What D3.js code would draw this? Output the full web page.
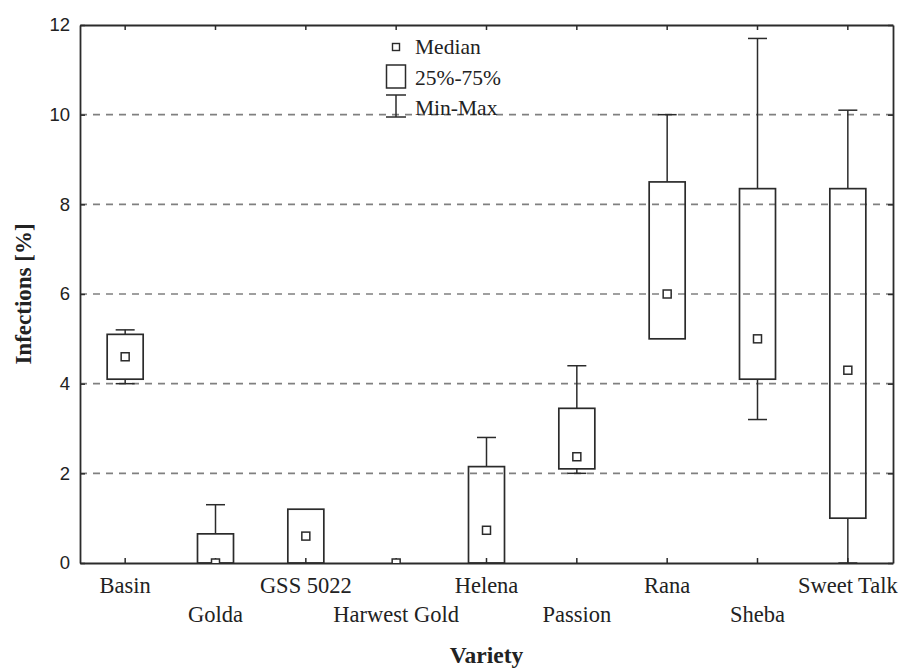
<!DOCTYPE html>
<html>
<head>
<meta charset="utf-8">
<script src="https://cdn.jsdelivr.net/npm/d3@7"></script>
<style>
  body { margin: 0; background: #fff; }
  svg text { fill: #222; }
</style>
</head>
<body>
<svg id="chart" width="904" height="670"></svg>
<script>
// values
const varieties = ["Basin", "Golda", "GSS 5022", "Harwest Gold", "Helena", "Passion", "Rana", "Sheba", "Sweet Talk"];
const minVals    = [4.0, 0,    0,   0, 0,    2.0,  5.0, 3.2,  0];
const q1Vals     = [4.1, 0,    0,   0, 0,    2.1,  5.0, 4.1,  1.0];
const medianVals = [4.6, 0,    0.6, 0, 0.73, 2.37, 6.0, 5.0,  4.3];
const q3Vals     = [5.1, 0.65, 1.2, 0, 2.15, 3.45, 8.5, 8.35, 8.35];
const maxVals    = [5.2, 1.3,  1.2, 0, 2.8,  4.4,  10.0, 11.7, 10.1];
const yTicks = [0, 2, 4, 6, 8, 10, 12];
const gridTicks = [2, 4, 6, 8, 10];
const legendItems = ["Median", "25%-75%", "Min-Max"];

const rows = varieties.map((v, i) => ({
  name: v, min: minVals[i], q1: q1Vals[i], med: medianVals[i], q3: q3Vals[i], max: maxVals[i]
}));

const plotL = 80, plotR = 893, plotT = 25, plotB = 563;
const ink = "#2b2b2b";
const serif = "'Liberation Serif', 'Times New Roman', serif";
const sans = "'Liberation Sans', Arial, sans-serif";

const svg = d3.select("#chart");

svg.append("defs").append("clipPath").attr("id", "plotclip")
  .append("rect")
  .attr("x", plotL).attr("y", plotT)
  .attr("width", plotR - plotL).attr("height", plotB - plotT);

const x = d3.scaleBand().domain(varieties).range([plotL, plotR]);
const y = d3.scaleLinear().domain([0, 12]).range([plotB, plotT]);

const boxW = 36, capW = 19, medS = 8;

// dashed grid
svg.append("g").selectAll("line")
  .data(gridTicks).enter()
  .append("line")
  .attr("x1", plotL).attr("x2", plotR)
  .attr("y1", d => y(d)).attr("y2", d => y(d))
  .attr("stroke", "#808080")
  .attr("stroke-width", 1.6)
  .attr("stroke-dasharray", "7,6");

// axes, ticks inward
const yAxis = svg.append("g")
  .attr("transform", "translate(" + plotL + ",0)")
  .call(d3.axisLeft(y).tickValues(yTicks).tickSize(-5).tickSizeOuter(0).tickPadding(10));
yAxis.selectAll("text").style("font-family", sans).style("font-size", "18.5px").attr("fill", "#222");

svg.append("g")
  .attr("transform", "translate(" + plotR + ",0)")
  .call(d3.axisRight(y).tickValues(yTicks).tickSize(-5).tickSizeOuter(0).tickFormat(""));

svg.append("g")
  .attr("transform", "translate(0," + plotB + ")")
  .call(d3.axisBottom(x).tickSize(-5).tickSizeOuter(0).tickFormat(""));

svg.append("g")
  .attr("transform", "translate(0," + plotT + ")")
  .call(d3.axisTop(x).tickSize(-5).tickSizeOuter(0).tickFormat(""));

svg.selectAll(".domain").attr("stroke", ink).attr("stroke-width", 1.8);
svg.selectAll(".tick line").attr("stroke", ink).attr("stroke-width", 1.5);

// boxes
const box = svg.append("g")
  .attr("clip-path", "url(#plotclip)")
  .selectAll("g")
  .data(rows).enter()
  .append("g")
  .attr("transform", d => "translate(" + (x(d.name) + x.bandwidth() / 2) + ",0)");

box.append("line")
  .attr("x1", 0).attr("x2", 0)
  .attr("y1", d => y(d.q3)).attr("y2", d => y(d.max))
  .attr("stroke", ink).attr("stroke-width", 1.5);
box.append("line")
  .attr("x1", 0).attr("x2", 0)
  .attr("y1", d => y(d.q1)).attr("y2", d => y(d.min))
  .attr("stroke", ink).attr("stroke-width", 1.5);
box.filter(d => d.max > d.q3).append("line")
  .attr("x1", -capW / 2).attr("x2", capW / 2)
  .attr("y1", d => y(d.max)).attr("y2", d => y(d.max))
  .attr("stroke", ink).attr("stroke-width", 1.5);
box.filter(d => d.min < d.q1).append("line")
  .attr("x1", -capW / 2).attr("x2", capW / 2)
  .attr("y1", d => y(d.min)).attr("y2", d => y(d.min))
  .attr("stroke", ink).attr("stroke-width", 1.5);

box.filter(d => d.q3 > d.q1).append("rect")
  .attr("x", -boxW / 2)
  .attr("width", boxW)
  .attr("y", d => y(d.q3))
  .attr("height", d => y(d.q1) - y(d.q3))
  .attr("fill", "none")
  .attr("stroke", ink).attr("stroke-width", 1.7);

box.append("rect")
  .attr("x", -medS / 2)
  .attr("y", d => y(d.med) - medS / 2)
  .attr("width", medS).attr("height", medS)
  .attr("fill", "#fff")
  .attr("stroke", ink).attr("stroke-width", 1.5);

// category labels, staggered in two rows
svg.append("g").selectAll("text")
  .data(varieties).enter()
  .append("text")
  .attr("x", d => x(d) + x.bandwidth() / 2)
  .attr("y", (d, i) => i % 2 === 0 ? 593 : 622)
  .attr("text-anchor", "middle")
  .style("font-family", serif)
  .style("font-size", "22.5px")
  .text(d => d);

// axis titles
svg.append("text")
  .attr("x", (plotL + plotR) / 2).attr("y", 663)
  .attr("text-anchor", "middle")
  .style("font-family", serif).style("font-size", "23.5px").style("font-weight", "bold")
  .text("Variety");

svg.append("text")
  .attr("transform", "translate(31," + (plotT + plotB) / 2 + ") rotate(-90)")
  .attr("text-anchor", "middle")
  .style("font-family", serif).style("font-size", "23px").style("font-weight", "bold")
  .text("Infections [%]");

// legend
const lg = svg.append("g").attr("transform", "translate(396,0)");
lg.append("rect")
  .attr("x", -3.5).attr("y", 43.5).attr("width", 7).attr("height", 7)
  .attr("fill", "#fff").attr("stroke", ink).attr("stroke-width", 1.4);
lg.append("rect")
  .attr("x", -9.5).attr("y", 65).attr("width", 19).attr("height", 23)
  .attr("fill", "none").attr("stroke", ink).attr("stroke-width", 1.5);
lg.append("line").attr("x1", 0).attr("x2", 0).attr("y1", 95).attr("y2", 117)
  .attr("stroke", ink).attr("stroke-width", 1.5);
lg.append("line").attr("x1", -10).attr("x2", 10).attr("y1", 95).attr("y2", 95)
  .attr("stroke", ink).attr("stroke-width", 1.5);
lg.append("line").attr("x1", -10).attr("x2", 10).attr("y1", 117).attr("y2", 117)
  .attr("stroke", ink).attr("stroke-width", 1.5);

lg.selectAll("text.leg")
  .data(legendItems).enter()
  .append("text")
  .attr("class", "leg")
  .attr("x", 19)
  .attr("y", (d, i) => [54, 85, 115][i])
  .style("font-family", serif)
  .style("font-size", "21.5px")
  .text(d => d);
</script>
</body>
</html>
